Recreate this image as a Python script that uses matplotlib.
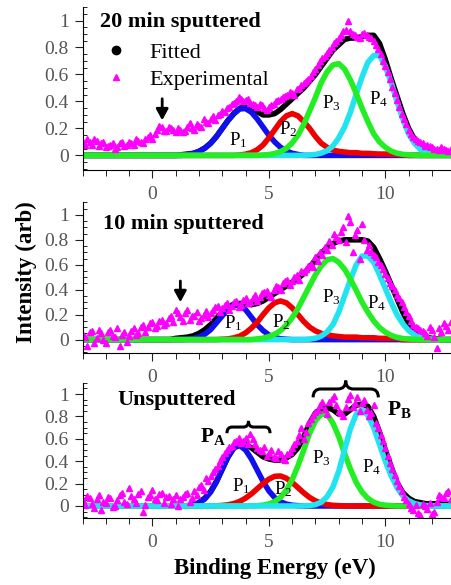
import numpy as np
import matplotlib
matplotlib.use('Agg')
import matplotlib.pyplot as plt
from matplotlib.lines import Line2D
from matplotlib.path import Path
from matplotlib.patches import PathPatch
from matplotlib.ticker import MultipleLocator, FuncFormatter

plt.rcParams['font.family'] = ['Liberation Serif', 'DejaVu Serif']
plt.rcParams['mathtext.fontset'] = 'custom'
plt.rcParams['mathtext.rm'] = 'Liberation Serif'
plt.rcParams['mathtext.it'] = 'Liberation Serif:italic'
plt.rcParams['mathtext.bf'] = 'Liberation Serif:bold'

# curves are read on a 0.25 eV grid, experimental points on two interleaved 0.2 eV grids
fit_energy = np.round(np.arange(-3.0, 12.76, 0.25), 2)
exp_energy = np.round(np.arange(-3.0, 12.81, 0.2), 2)
exp_energy_b = np.round(np.arange(-2.9, 12.71, 0.2), 2)

# ---- 20 min sputtered ----
s20_exp = [0.10, 0.12, 0.08, 0.11, 0.09, 0.06, 0.08, 0.05, 0.09, 0.07,
           0.10, 0.08, 0.11, 0.09, 0.14, 0.12, 0.19, 0.21, 0.18, 0.20,
           0.17, 0.19, 0.18, 0.24, 0.19, 0.22, 0.27, 0.24, 0.29, 0.30,
           0.33, 0.35, 0.38, 0.40, 0.42, 0.41, 0.39, 0.37, 0.38, 0.35,
           0.36, 0.38, 0.41, 0.43, 0.45, 0.46, 0.49, 0.52, 0.55, 0.59,
           0.64, 0.70, 0.74, 0.78, 0.83, 0.87, 0.92, 1.00, 0.90, 0.88,
           0.90, 0.89, 0.87, 0.82, 0.75, 0.66, 0.57, 0.46, 0.36, 0.27,
           0.19, 0.14, 0.11, 0.09, 0.08, 0.06, 0.05, 0.06, 0.04, 0.05]
s20_exp_b = [0.08, 0.10, 0.12, 0.07, 0.10, 0.07, 0.09, 0.06, 0.10, 0.08,
             0.09, 0.12, 0.10, 0.12, 0.15, 0.16, 0.22, 0.18, 0.21, 0.19,
             0.20, 0.17, 0.21, 0.20, 0.23, 0.21, 0.25, 0.27, 0.26, 0.31,
             0.32, 0.36, 0.39, 0.43, 0.40, 0.42, 0.38, 0.36, 0.37, 0.34,
             0.37, 0.40, 0.42, 0.44, 0.47, 0.45, 0.50, 0.54, 0.57, 0.62,
             0.67, 0.72, 0.76, 0.80, 0.85, 0.89, 0.93, 0.92, 0.89, 0.87,
             0.91, 0.88, 0.85, 0.79, 0.70, 0.62, 0.51, 0.41, 0.31, 0.23,
             0.16, 0.12, 0.10, 0.07, 0.07, 0.05, 0.04, 0.05, 0.03]
s20_fit = (1.25, [0.005, 0.01, 0.015, 0.03, 0.055, 0.09, 0.14, 0.20, 0.26, 0.31,
                  0.35, 0.36, 0.345, 0.325, 0.30, 0.30, 0.31, 0.34, 0.38, 0.42,
                  0.46, 0.50, 0.55, 0.60, 0.66, 0.72, 0.78, 0.82, 0.86, 0.87,
                  0.87, 0.88, 0.89, 0.89, 0.83, 0.71, 0.57, 0.44, 0.31, 0.20,
                  0.12, 0.07, 0.04, 0.02, 0.01, 0.01, 0.01])
s20_p1 = (1.5, [0.006, 0.014, 0.029, 0.053, 0.09, 0.14, 0.20, 0.26, 0.31, 0.345,
                0.347, 0.32, 0.27, 0.21, 0.15, 0.10, 0.06, 0.033, 0.016, 0.007])
s20_p2 = (3.75, [0.003, 0.009, 0.02, 0.042, 0.077, 0.13, 0.19, 0.25, 0.293, 0.31,
                 0.293, 0.25, 0.20, 0.14, 0.09, 0.06, 0.04, 0.03, 0.025, 0.02,
                 0.02, 0.015, 0.015, 0.012, 0.01, 0.01, 0.008, 0.006, 0.005])
s20_p3 = (4.75, [0.003, 0.006, 0.014, 0.028, 0.052, 0.092, 0.15, 0.23, 0.33, 0.43,
                 0.54, 0.62, 0.67, 0.68, 0.64, 0.56, 0.46, 0.35, 0.25, 0.16,
                 0.10, 0.06, 0.032, 0.016, 0.008, 0.004, 0.002])
s20_p4 = (6.5, [0.001, 0.003, 0.007, 0.017, 0.035, 0.07, 0.13, 0.21, 0.32, 0.455,
                0.58, 0.69, 0.74, 0.74, 0.66, 0.54, 0.40, 0.27, 0.16, 0.09,
                0.045, 0.02, 0.008, 0.003])

# ---- 10 min sputtered ----
s10_exp = [0.04, -0.05, 0.07, 0.01, 0.05, -0.03, 0.08, 0.02, -0.05, 0.06,
           0.03, 0.09, 0.05, 0.12, 0.10, 0.14, 0.11, 0.16, 0.13, 0.19,
           0.24, 0.18, 0.21, 0.16, 0.19, 0.15, 0.20, 0.18, 0.24, 0.27,
           0.25, 0.29, 0.27, 0.31, 0.28, 0.33, 0.30, 0.36, 0.34, 0.38,
           0.36, 0.40, 0.42, 0.45, 0.48, 0.47, 0.52, 0.55, 0.57, 0.61,
           0.66, 0.70, 0.74, 0.79, 0.85, 0.80, 0.90, 0.99, 0.70, 0.88,
           0.93, 0.72, 0.70, 0.66, 0.60, 0.53, 0.45, 0.40, 0.33, 0.26,
           0.19, 0.12, 0.09, 0.07, 0.03, 0.08, -0.07, 0.06, 0.11, 0.14]
s10_exp_b = [0.02, 0.06, -0.03, 0.08, 0.00, 0.06, 0.03, 0.09, 0.04, -0.02,
             0.07, 0.04, 0.10, 0.06, 0.13, 0.09, 0.15, 0.12, 0.17, 0.14,
             0.21, 0.15, 0.24, 0.19, 0.22, 0.17, 0.23, 0.21, 0.26, 0.22,
             0.28, 0.24, 0.30, 0.26, 0.32, 0.29, 0.33, 0.31, 0.37, 0.39,
             0.34, 0.43, 0.40, 0.47, 0.44, 0.50, 0.48, 0.54, 0.59, 0.58,
             0.63, 0.68, 0.72, 0.76, 0.82, 0.86, 0.78, 0.94, 0.84, 0.65,
             0.80, 0.76, 0.68, 0.62, 0.57, 0.49, 0.43, 0.36, 0.30, 0.22,
             0.15, 0.10, 0.08, 0.05, 0.10, 0.02, 0.09, 0.13, 0.08]
s10_fit = (1.0, [0.01, 0.015, 0.02, 0.03, 0.05, 0.08, 0.12, 0.17, 0.22, 0.26,
                 0.285, 0.29, 0.285, 0.28, 0.29, 0.31, 0.34, 0.37, 0.40, 0.43,
                 0.46, 0.49, 0.53, 0.58, 0.64, 0.69, 0.74, 0.77, 0.79, 0.80,
                 0.80, 0.80, 0.80, 0.79, 0.74, 0.65, 0.55, 0.44, 0.33, 0.22,
                 0.13, 0.07, 0.04, 0.02, 0.01, 0.005])
s10_p1 = (1.5, [0.003, 0.008, 0.02, 0.043, 0.08, 0.135, 0.19, 0.25, 0.277, 0.274,
                0.24, 0.18, 0.12, 0.073, 0.038, 0.017, 0.007, 0.003])
s10_p2 = (3.0, [0.003, 0.006, 0.014, 0.028, 0.054, 0.092, 0.14, 0.20, 0.255, 0.295,
                0.31, 0.295, 0.255, 0.20, 0.145, 0.10, 0.07, 0.05, 0.04, 0.03,
                0.025, 0.02, 0.02, 0.02, 0.015, 0.015, 0.015, 0.01, 0.01, 0.01, 0.01])
s10_p3 = (4.5, [0.006, 0.012, 0.024, 0.043, 0.072, 0.115, 0.175, 0.25, 0.34, 0.43,
                0.52, 0.59, 0.64, 0.65, 0.62, 0.565, 0.485, 0.395, 0.30, 0.22,
                0.15, 0.097, 0.06, 0.034, 0.018, 0.009, 0.005, 0.002])
s10_p4 = (6.75, [0.004, 0.011, 0.028, 0.062, 0.12, 0.22, 0.35, 0.48, 0.60, 0.67,
                 0.67, 0.62, 0.52, 0.41, 0.30, 0.20, 0.127, 0.073, 0.039, 0.019,
                 0.009, 0.004])

# ---- unsputtered ----
s0_exp = [0.05, 0.09, 0.02, 0.06, -0.04, 0.03, 0.07, 0.00, 0.10, 0.04,
          0.16, 0.06, 0.11, -0.05, 0.08, 0.14, 0.05, 0.12, 0.08, 0.02,
          0.10, 0.06, 0.11, 0.04, 0.13, 0.17, 0.14, 0.22, 0.30, 0.36,
          0.44, 0.50, 0.54, 0.58, 0.56, 0.61, 0.64, 0.55, 0.50, 0.53,
          0.47, 0.44, 0.49, 0.42, 0.46, 0.52, 0.58, 0.70, 0.66, 0.78,
          0.84, 0.90, 0.87, 0.93, 0.98, 0.85, 0.80, 0.96, 0.88, 0.97,
          0.92, 0.86, 0.83, 0.74, 0.63, 0.52, 0.38, 0.28, 0.18, 0.08,
          0.02, -0.04, -0.06, 0.02, -0.03, -0.07, 0.04, 0.08, 0.12, 0.06]
s0_exp_b = [0.01, 0.07, -0.02, 0.10, 0.04, 0.08, -0.01, 0.05, 0.12, 0.02,
            0.09, 0.03, 0.13, 0.01, 0.10, 0.06, 0.11, 0.03, 0.09, 0.06,
            0.00, 0.08, 0.12, 0.07, 0.10, 0.19, 0.25, 0.27, 0.33, 0.40,
            0.47, 0.53, 0.57, 0.61, 0.58, 0.55, 0.60, 0.52, 0.49, 0.45,
            0.50, 0.43, 0.46, 0.41, 0.48, 0.55, 0.63, 0.60, 0.74, 0.81,
            0.86, 0.93, 0.82, 0.96, 0.90, 0.83, 0.88, 0.99, 0.92, 0.85,
            0.95, 0.80, 0.90, 0.70, 0.58, 0.45, 0.33, 0.22, 0.13, 0.05,
            -0.02, 0.01, -0.08, 0.00, 0.03, -0.05, 0.10, 0.07, 0.13]
s0_fit = (2.0, [0.03, 0.07, 0.13, 0.22, 0.33, 0.44, 0.52, 0.56, 0.55, 0.52,
                0.48, 0.44, 0.42, 0.41, 0.41, 0.43, 0.46, 0.52, 0.62, 0.74,
                0.83, 0.87, 0.88, 0.86, 0.82, 0.82, 0.86, 0.90, 0.91, 0.89,
                0.80, 0.66, 0.50, 0.35, 0.21, 0.12, 0.07, 0.04, 0.03, 0.02,
                0.02, 0.02, 0.02, 0.02])
s0_p1 = (1.5, [0.004, 0.011, 0.028, 0.063, 0.125, 0.215, 0.33, 0.44, 0.52, 0.54,
               0.50, 0.42, 0.32, 0.22, 0.135, 0.075, 0.037, 0.017, 0.007, 0.003])
s0_p2 = (2.75, [0.002, 0.005, 0.011, 0.022, 0.041, 0.07, 0.108, 0.154, 0.20, 0.24,
                0.265, 0.268, 0.248, 0.21, 0.164, 0.117, 0.076, 0.046, 0.025, 0.013,
                0.006, 0.003])
s0_p3 = (4.25, [0.001, 0.003, 0.008, 0.018, 0.039, 0.077, 0.14, 0.235, 0.36, 0.50,
                0.65, 0.76, 0.82, 0.82, 0.74, 0.62, 0.47, 0.33, 0.21, 0.125,
                0.068, 0.034, 0.015, 0.007, 0.003])
s0_p4 = (6.5, [0.001, 0.004, 0.012, 0.034, 0.083, 0.17, 0.31, 0.50, 0.69, 0.82,
               0.86, 0.81, 0.70, 0.55, 0.40, 0.27, 0.165, 0.09, 0.047, 0.022,
               0.01, 0.004])

x_ticks = [0, 5, 10]
x_tick_labels = ['0', '5', '10']

peak_colors = ['#1010ee', '#ee0000', '#22ee22', '#22e4f0']
exp_color = '#ff00ff'


def on_grid(series):
    start, vals = series
    y = np.zeros(len(fit_energy))
    i = int(round((start - fit_energy[0]) / 0.25))
    y[i:i + len(vals)] = vals
    return y


def brace(ax, x0, x1, y, h):
    xm = (x0 + x1) / 2
    r = (x1 - x0) * 0.12
    ym = y + h / 2
    verts = [(x0, y), (x0, ym), (x0 + r, ym), (xm - r, ym), (xm, ym), (xm, y + h),
             (xm, ym), (xm + r, ym), (x1 - r, ym), (x1, ym), (x1, y)]
    codes = [Path.MOVETO, Path.CURVE3, Path.CURVE3, Path.LINETO, Path.CURVE3, Path.CURVE3,
             Path.CURVE3, Path.CURVE3, Path.LINETO, Path.CURVE3, Path.CURVE3]
    ax.add_patch(PathPatch(Path(verts, codes), fill=False, lw=2.2, color='k', clip_on=False))


def down_arrow(ax, x, y_tip, y_top):
    ax.annotate('', xy=(x, y_tip), xytext=(x, y_top),
                arrowprops=dict(arrowstyle='-|>,head_width=0.3,head_length=0.55',
                                color='k', lw=2, mutation_scale=12,
                                shrinkA=0, shrinkB=0))


fig = plt.figure(figsize=(4.51, 5.85), dpi=100)
# axes boxes [left, bottom, width, height] in figure fractions
boxes = [[0.183, 0.709, 0.817, 0.279],
         [0.183, 0.396, 0.817, 0.258],
         [0.183, 0.114, 0.817, 0.2316]]
panels = [(s20_exp, s20_exp_b, s20_fit, [s20_p1, s20_p2, s20_p4, s20_p3]),
          (s10_exp, s10_exp_b, s10_fit, [s10_p1, s10_p2, s10_p4, s10_p3]),
          (s0_exp, s0_exp_b, s0_fit, [s0_p1, s0_p2, s0_p3, s0_p4])]
draw_colors = [[peak_colors[0], peak_colors[1], peak_colors[3], peak_colors[2]],
               [peak_colors[0], peak_colors[1], peak_colors[3], peak_colors[2]],
               peak_colors]

axes = []
for n, (box, (exp, exp_b, fit, peaks), cols) in enumerate(zip(boxes, panels, draw_colors)):
    ax = fig.add_axes(box)
    ax.set_zorder(10 - n)
    ax.patch.set_visible(False)
    ax.plot(fit_energy, on_grid(fit), color='k', lw=4)
    for pk, c in zip(peaks, cols):
        ax.plot(fit_energy, on_grid(pk), color=c, lw=4)
    ax.plot(exp_energy, exp, ls='none', marker='^', ms=5, color=exp_color)
    ax.plot(exp_energy_b, exp_b, ls='none', marker='^', ms=5, color=exp_color)

    ax.set_xlim(-3, 12.82)
    ax.set_ylim(-0.11, 1.10)
    ax.set_xticks(x_ticks)
    ax.set_xticklabels(x_tick_labels)
    ax.xaxis.set_minor_locator(MultipleLocator(1))
    ax.yaxis.set_major_locator(MultipleLocator(0.2))
    ax.yaxis.set_minor_locator(MultipleLocator(0.05))
    ax.yaxis.set_major_formatter(FuncFormatter(lambda v, p: f'{v:g}'))
    ax.spines['top'].set_visible(False)
    ax.spines['right'].set_visible(False)
    ax.tick_params(labelsize=14, labelcolor='#555555', color='#222222')
    ax.tick_params(axis='y', which='major', direction='out', length=6, pad=4)
    ax.tick_params(axis='y', which='minor', direction='in', length=3)
    ax.tick_params(axis='x', which='major', direction='out', length=6, pad=5)
    ax.tick_params(axis='x', which='minor', direction='out', length=4)
    axes.append(ax)

ax1, ax2, ax3 = axes
lab = dict(fontsize=13.5, ha='left', va='baseline')

# 20 min sputtered; its energy labels are written as plain texts in the gap
ax1.tick_params(axis='x', labelbottom=False)
for xt, lt in zip(x_ticks, x_tick_labels):
    ax1.text(xt, -0.29, lt, fontsize=14, color='#555555', ha='center', va='center',
             clip_on=False)
ax1.text(-2.23, 0.95, '20 min sputtered', fontsize=16, weight='bold', va='baseline')
ax1.legend(handles=[Line2D([], [], ls='none', marker='o', ms=6, color='k'),
                    Line2D([], [], ls='none', marker='^', ms=5, color=exp_color)],
           labels=['Fitted', 'Experimental'], loc='upper left',
           bbox_to_anchor=(-2.02, 0.84), bbox_transform=ax1.transData,
           frameon=False, fontsize=16, handlelength=1.0, handletextpad=1.0,
           labelspacing=0.3, borderpad=0, borderaxespad=0)
down_arrow(ax1, 0.42, 0.26, 0.42)
ax1.text(3.27, 0.074, r'P$_\mathrm{1}$', **lab)
ax1.text(5.42, 0.16, r'P$_\mathrm{2}$', **lab)
ax1.text(7.28, 0.35, r'P$_\mathrm{3}$', **lab)
ax1.text(9.28, 0.38, r'P$_\mathrm{4}$', **lab)

# 10 min sputtered
ax2.text(-2.1, 0.89, '10 min sputtered', fontsize=16, weight='bold', va='baseline')
down_arrow(ax2, 1.2, 0.30, 0.47)
ax2.text(3.06, 0.09, r'P$_\mathrm{1}$', **lab)
ax2.text(5.13, 0.10, r'P$_\mathrm{2}$', **lab)
ax2.text(7.28, 0.30, r'P$_\mathrm{3}$', **lab)
ax2.text(9.2, 0.25, r'P$_\mathrm{4}$', **lab)

# unsputtered
ax3.text(-1.5, 0.90, 'Unsputtered', fontsize=16, weight='bold', va='baseline')
ax3.text(3.4, 0.13, r'P$_\mathrm{1}$', **lab)
ax3.text(5.2, 0.10, r'P$_\mathrm{2}$', **lab)
ax3.text(6.85, 0.38, r'P$_\mathrm{3}$', **lab)
ax3.text(9.0, 0.30, r'P$_\mathrm{4}$', **lab)
ax3.text(2.06, 0.57, r'P$_\mathbf{A}$', fontsize=15.5, weight='bold', va='baseline')
ax3.text(10.07, 0.81, r'P$_\mathbf{B}$', fontsize=15.5, weight='bold', va='baseline')
brace(ax3, 3.2, 5.05, 0.65, 0.11)
brace(ax3, 6.9, 9.7, 0.97, 0.15)

fig.text(26 / 451, 1 - 272 / 585, 'Intensity (arb)', rotation=90, fontsize=16.5,
         weight='bold', ha='center', va='center')
fig.text(274.5 / 451, 1 - 568 / 585, 'Binding Energy (eV)', fontsize=16.5,
         weight='bold', ha='center', va='center')

fig.savefig('out.png', dpi=100)
